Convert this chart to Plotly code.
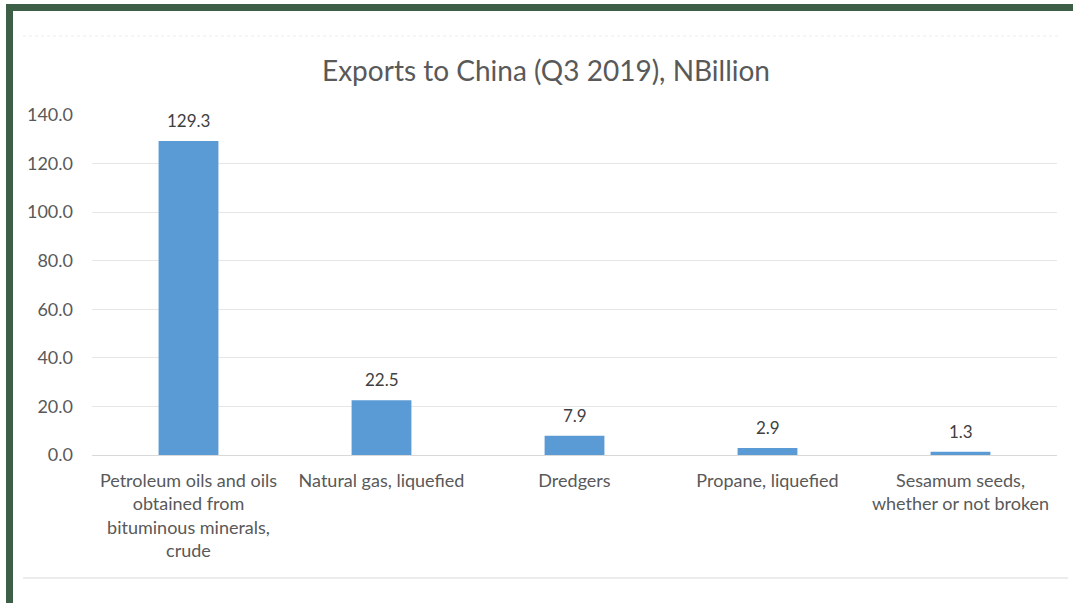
import plotly.graph_objects as go

categories = [
    "Petroleum oils and oils<br>obtained from<br>bituminous minerals,<br>crude",
    "Natural gas, liquefied",
    "Dredgers",
    "Propane, liquefied",
    "Sesamum seeds,<br>whether or not broken",
]
values = [129.3, 22.5, 7.9, 2.9, 1.3]
value_labels = ["129.3", "22.5", "7.9", "2.9", "1.3"]
y_ticks = [0, 20, 40, 60, 80, 100, 120, 140]
y_tick_labels = ["0.0", "20.0", "40.0", "60.0", "80.0", "100.0", "120.0", "140.0"]

W, H = 1073, 603
ML, MR, MT, MB = 92, 16, 115, 148
PW, PH = W - ML - MR, H - MT - MB


def px_x(px):
    return (px - ML) / PW


def px_y(py):
    return (H - MB - py) / PH


FONT = "Lato, 'Open Sans', sans-serif"
TXT = "#595959"
GREEN = "#3d5e47"

fig = go.Figure()
fig.add_trace(go.Bar(
    x=categories, y=values,
    marker=dict(color="#5b9bd5", line=dict(width=0)),
    hoverinfo="x+y",
))

for c, v, lab in zip(categories, values, value_labels):
    fig.add_annotation(x=c, y=v, text=lab, showarrow=False, yanchor="bottom",
                       yshift=8, font=dict(family=FONT, size=17, color="#404040"))

shapes = [
    # green frame top and left
    dict(type="rect", xref="paper", yref="paper", x0=px_x(6), x1=px_x(1080),
         y0=px_y(11), y1=px_y(4), fillcolor=GREEN, line=dict(width=0), layer="above"),
    dict(type="rect", xref="paper", yref="paper", x0=px_x(6), x1=px_x(13),
         y0=px_y(610), y1=px_y(4), fillcolor=GREEN, line=dict(width=0), layer="above"),
    # faint top separator
    dict(type="line", xref="paper", yref="paper", x0=px_x(23), x1=px_x(1060),
         y0=px_y(36), y1=px_y(36), line=dict(color="#ececec", width=1, dash="dot")),
    # bottom separator
    dict(type="line", xref="paper", yref="paper", x0=px_x(23), x1=px_x(1068),
         y0=px_y(578), y1=px_y(578), line=dict(color="#d9d9d9", width=1)),
]

fig.update_layout(
    width=W, height=H, autosize=False,
    margin=dict(l=ML, r=MR, t=MT, b=MB),
    paper_bgcolor="white", plot_bgcolor="white",
    font=dict(family=FONT, color=TXT),
    title=dict(text="Exports to China (Q3 2019), NBillion", x=546 / W, xanchor="center",
               xref="container", y=1 - 71 / H, yanchor="middle",
               font=dict(family=FONT, size=28, color=TXT)),
    bargap=0.69,
    showlegend=False,
    shapes=shapes,
    xaxis=dict(showgrid=False, showline=False, ticks="",
               tickfont=dict(family=FONT, size=18, color=TXT), tickangle=0,
               ticklabelstandoff=13),
    yaxis=dict(range=[0, 140], tickvals=y_ticks, ticktext=y_tick_labels,
               showgrid=True, gridcolor="#e6e6e6", gridwidth=1,
               zeroline=True, zerolinecolor="#d9d9d9", zerolinewidth=1,
               showline=False, ticks="", ticklabelstandoff=18,
               tickfont=dict(family=FONT, size=18, color=TXT)),
)

fig.write_html("out.html", config={"displayModeBar": False},
               post_script="document.body.style.margin='0';document.body.style.overflow='hidden';")
